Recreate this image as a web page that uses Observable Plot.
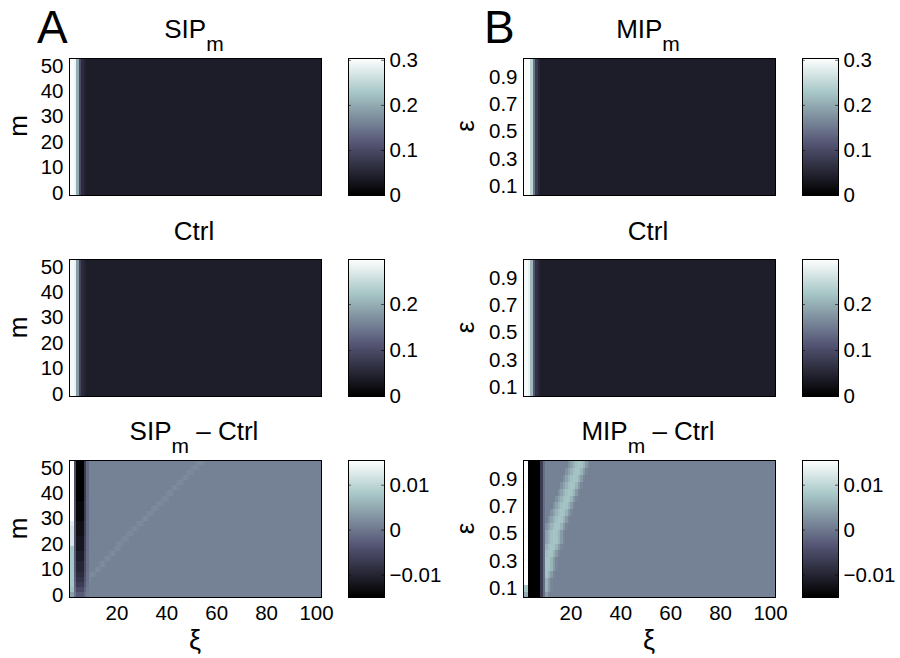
<!DOCTYPE html>
<html><head><meta charset="utf-8">
<script src="https://cdn.jsdelivr.net/npm/d3@7"></script>
<script src="https://cdn.jsdelivr.net/npm/@observablehq/plot@0.6"></script>
<style>
html,body{margin:0;padding:0;background:#fff;}
#root{position:relative;width:900px;height:658px;overflow:hidden;font-family:"Liberation Sans",Arial,Helvetica,sans-serif;}
#root > svg{position:absolute;margin:0;}
</style></head><body><div id="root"></div>
<script>
// ---------------- data ----------------
const xiTicks = [20, 40, 60, 80, 100];
const mTicks = [0, 10, 20, 30, 40, 50];
const epsTicks = [0.1, 0.3, 0.5, 0.7, 0.9];
const cbTicksTop = [0, 0.1, 0.2, 0.3];
const cbTicksMid = [0, 0.1, 0.2];
const cbTicksDiff = [-0.01, 0, 0.01];

const mRows = d3.range(0, 53, 2);                       // m = 0..52
const epsRows = d3.range(1, 21).map(i => +(i * 0.05).toFixed(2)); // ε = 0.05..1.0
const xiCols = d3.range(1, 102);                         // ξ cells

// column profiles (value at ξ = 1,2,3,...; afterwards the "rest" value)
const sipHead  = [0.30, 0.30, 0.29, 0.20, 0.10, 0.06, 0.047];
const sipRest  = 0.04;
const ctrlAHead = [0.29, 0.29, 0.28, 0.18, 0.09, 0.057, 0.047];
const ctrlARest = 0.04;
const mipHead  = [0.30, 0.30, 0.30, 0.25, 0.15, 0.08, 0.052];
const mipRest  = 0.04;
const ctrlBHead = [0.29, 0.29, 0.28, 0.21, 0.11, 0.065, 0.05];
const ctrlBRest = 0.04;

// SIP_m − Ctrl, per m row (m = 0..52 step 2)
const a3Left  = [0.004,0.007,0.008,0.008,0.008,0.008,0.008,0.008,0.008,0.008,0.012,0.012,0.012,0.012,0.013,0.016,0.016,0.016,0.016,0.016,0.016,0.016,0.016,0.016,0.016,0.016,0.016];
const a3Dark  = [-0.003,-0.005,-0.007,-0.008,-0.009,-0.010,-0.010,-0.011,-0.011,-0.012,-0.012,-0.012,-0.013,-0.013,-0.013,-0.014,-0.014,-0.014,-0.014,-0.015,-0.015,-0.015,-0.015,-0.015,-0.015,-0.015,-0.015];
const a3Ridge = [4,5,7,9,11,13,15,17,19,21,22,24,26,28,30,32,34,36,38,40,42,44,46,48,50,52,54];
const a3DarkShape = [0, 0, 0.35, 1, 1, 1, 0.5, 0.15];    // ξ = 1..8 weight of dark band
const a3RidgeShape = [0.0006, 0.001, 0.0006];            // offsets −1..1
const a3Bg = 0.001;

// MIP_m − Ctrl, per ε row (ε = 0.05..1.0)
const b3Left  = [0.005,0.008,0.016,0.016,0.016,0.016,0.016,0.016,0.016,0.016,0.016,0.016,0.016,0.016,0.016,0.016,0.016,0.016,0.016,0.016];
const b3Ridge = [7.8,8.4,9.0,9.6,10.2,10.9,11.6,12.4,13.2,14.0,14.8,15.6,16.5,17.4,18.3,19.3,20.3,21.3,22.3,23.2];
const b3DarkCols = [null, null, -0.015, -0.015, -0.015, -0.015, -0.015, -0.007, -0.001]; // ξ = 1..9
const b3RidgeShape = [0.0025, 0.0042, 0.0058, 0.007, 0.0076, 0.0074, 0.006, 0.0035, 0.0015]; // offsets −4..4
const b3Bg = 0.001;

// colour ranges
const cTop = [0, 0.304], cMid = [0, 0.298], cDiff = [-0.015, 0.0155];
const boneStops = ["#000000", "#545474", "#a7c7c7", "#ffffff"];

// ---------------- builders ----------------
function colorOpts([d0, d1]) {
  return {type: "linear", domain: [d0, d0 + 0.375 * (d1 - d0), d0 + 0.75 * (d1 - d0), d1],
          range: boneStops, interpolate: "rgb", clamp: true};
}
function colCells(head, rest, rows, half) {
  return rows.flatMap(r => xiCols.map(x => ({x1: x, x2: x + 1, y1: r - half, y2: r + half,
    v: x <= head.length ? head[x - 1] : rest})));
}
function a3Cells() {
  return mRows.flatMap((r, i) => xiCols.map(x => {
    let v;
    if (x <= 2) v = a3Left[i];
    else if (x <= a3DarkShape.length) v = a3Bg + (a3Dark[i] - a3Bg) * a3DarkShape[x - 1];
    else {
      const d = Math.round(x + 0.5 - a3Ridge[i]);
      v = Math.abs(d) <= 1 ? a3Bg + a3RidgeShape[d + 1] : a3Bg;
    }
    return {x1: x, x2: x + 1, y1: r - 1, y2: r + 1, v};
  }));
}
function b3Cells() {
  const h = (b3RidgeShape.length - 1) / 2;
  return epsRows.flatMap((r, i) => xiCols.map(x => {
    let v;
    if (x <= 2) v = b3Left[i];
    else if (x <= b3DarkCols.length) v = b3DarkCols[x - 1];
    else {
      const d = Math.round(x + 0.5 - b3Ridge[i]);
      v = Math.abs(d) <= h ? Math.max(b3Bg, b3RidgeShape[d + h]) : b3Bg;
    }
    return {x1: x, x2: x + 1, y1: r - 0.025, y2: r + 0.025, v};
  }));
}

const root = document.getElementById("root");
const FONT = '"Liberation Sans", Arial, Helvetica, sans-serif';
const PW = 252, PH = 137;

function heatPanel({cells, yDomain, yTicks, yFormat, cDomain, left, top, mLeft, showX}) {
  const mb = showX ? 40 : 2;
  const svg = Plot.plot({
    width: mLeft + PW + 2, height: PH + 2 + mb,
    marginLeft: mLeft, marginRight: 2, marginTop: 2, marginBottom: mb,
    style: {fontFamily: FONT, fontSize: "20.5px", color: "#000", background: "transparent", overflow: "visible"},
    x: {domain: [1, 102], axis: showX ? "bottom" : null, ticks: xiTicks, tickSize: 0, tickPadding: 8, label: null},
    y: {domain: yDomain, ticks: yTicks, tickFormat: yFormat, tickSize: 0, tickPadding: 6, label: null},
    color: colorOpts(cDomain),
    marks: [
      Plot.rect(cells, {x1: "x1", x2: "x2", y1: "y1", y2: "y2", fill: "v", shapeRendering: "crispEdges", clip: true}),
      Plot.frame({stroke: "#000", strokeWidth: 1})
    ]
  });
  svg.style.left = left + "px"; svg.style.top = (top - 2) + "px";
  root.appendChild(svg);
}
function colorbar({cDomain, ticks, left, top}) {
  const [d0, d1] = cDomain, N = PH;
  const slices = d3.range(N).map(i => ({a: d0 + (d1 - d0) * i / N, b: d0 + (d1 - d0) * (i + 1) / N}));
  const svg = Plot.plot({
    width: 1 + 36 + 60, height: PH + 4,
    marginLeft: 1, marginRight: 60, marginTop: 2, marginBottom: 2,
    style: {fontFamily: FONT, fontSize: "20.5px", color: "#000", background: "transparent", overflow: "visible"},
    x: {domain: [0, 1], axis: null},
    y: {domain: cDomain, axis: "right", ticks, tickFormat: d3.format("~g"), tickSize: 0, tickPadding: 5, label: null},
    color: colorOpts(cDomain),
    marks: [
      Plot.rect(slices, {x1: 0, x2: 1, y1: "a", y2: "b", fill: d => (d.a + d.b) / 2, shapeRendering: "crispEdges"}),
      Plot.ruleY(ticks, {y: d => d, x1: 0, x2: 0.08, stroke: "#000", strokeOpacity: 0.6}),
      Plot.ruleY(ticks, {y: d => d, x1: 0.92, x2: 1, stroke: "#000", strokeOpacity: 0.6}),
      Plot.frame({stroke: "#000", strokeWidth: 1})
    ]
  });
  svg.style.left = (left - 1) + "px"; svg.style.top = (top - 2) + "px";
  root.appendChild(svg);
}

const rowTops = [57.5, 259, 460];
const mDomain = [-1, 53], epsDomain = [0.035, 1.035];
const epsFmt = d3.format(".1f"), mFmt = d3.format("d");

heatPanel({cells: colCells(sipHead, sipRest, mRows, 1), yDomain: mDomain, yTicks: mTicks, yFormat: mFmt, cDomain: cTop, left: 0, top: rowTops[0], mLeft: 69});
heatPanel({cells: colCells(ctrlAHead, ctrlARest, mRows, 1), yDomain: mDomain, yTicks: mTicks, yFormat: mFmt, cDomain: cMid, left: 0, top: rowTops[1], mLeft: 69});
heatPanel({cells: a3Cells(), yDomain: mDomain, yTicks: mTicks, yFormat: mFmt, cDomain: cDiff, left: 0, top: rowTops[2], mLeft: 69, showX: true});
heatPanel({cells: colCells(mipHead, mipRest, epsRows, 0.025), yDomain: epsDomain, yTicks: epsTicks, yFormat: epsFmt, cDomain: cTop, left: 450, top: rowTops[0], mLeft: 73});
heatPanel({cells: colCells(ctrlBHead, ctrlBRest, epsRows, 0.025), yDomain: epsDomain, yTicks: epsTicks, yFormat: epsFmt, cDomain: cMid, left: 450, top: rowTops[1], mLeft: 73});
heatPanel({cells: b3Cells(), yDomain: epsDomain, yTicks: epsTicks, yFormat: epsFmt, cDomain: cDiff, left: 450, top: rowTops[2], mLeft: 73, showX: true});

colorbar({cDomain: cTop, ticks: cbTicksTop, left: 348, top: rowTops[0]});
colorbar({cDomain: cMid, ticks: cbTicksMid, left: 348, top: rowTops[1]});
colorbar({cDomain: cDiff, ticks: cbTicksDiff, left: 348, top: rowTops[2]});
colorbar({cDomain: cTop, ticks: cbTicksTop, left: 802, top: rowTops[0]});
colorbar({cDomain: cMid, ticks: cbTicksMid, left: 802, top: rowTops[1]});
colorbar({cDomain: cDiff, ticks: cbTicksDiff, left: 802, top: rowTops[2]});

// ---------------- text overlay ----------------
const ov = d3.select(root).append("svg").attr("width", 900).attr("height", 658)
  .style("left", "0px").style("top", "0px").style("pointer-events", "none")
  .attr("font-family", FONT).attr("fill", "#000");

function title(x, y, main, sub, tail) {
  const t = ov.append("text").attr("x", x).attr("y", y).attr("text-anchor", "middle").attr("font-size", 26);
  t.append("tspan").text(main);
  if (sub) {
    t.append("tspan").attr("dy", 13).attr("font-size", 21).text(sub);
    if (tail) t.append("tspan").attr("dy", -13).text(tail);
  }
}
title(194, 38, "SIP", "m");
title(648, 38, "MIP", "m");
title(194, 240, "Ctrl");
title(648, 240, "Ctrl");
title(194, 440, "SIP", "m", " \u2013 Ctrl");
title(648, 440, "MIP", "m", " \u2013 Ctrl");

ov.append("text").attr("x", 37).attr("y", 43).attr("font-size", 46).text("A");
ov.append("text").attr("x", 484).attr("y", 43).attr("font-size", 46).text("B");

function ylab(x, y, s) {
  ov.append("text").attr("transform", `translate(${x},${y}) rotate(-90)`).attr("text-anchor", "middle")
    .attr("font-size", 26).text(s);
}
rowTops.forEach(t => { ylab(27, t + PH / 2, "m"); ylab(474, t + PH / 2, "\u03b5"); });
ov.append("text").attr("x", 195).attr("y", 649).attr("text-anchor", "middle").attr("font-size", 27).text("\u03be");
ov.append("text").attr("x", 649).attr("y", 649).attr("text-anchor", "middle").attr("font-size", 27).text("\u03be");
</script></body></html>
